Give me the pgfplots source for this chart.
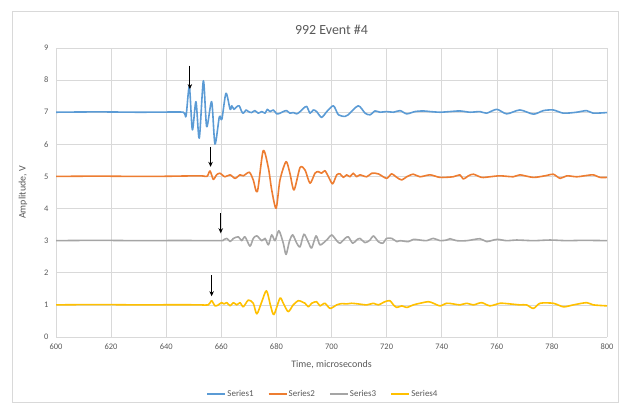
\documentclass[border=0pt]{standalone}
\usepackage{fontspec}
\setmainfont{Carlito}
\usepackage{pgfplots}
\pgfplotsset{compat=1.18}
\usetikzlibrary{arrows.meta}
\definecolor{sA}{RGB}{91,155,213}
\definecolor{sB}{RGB}{237,125,49}
\definecolor{sC}{RGB}{165,165,165}
\definecolor{sD}{RGB}{255,192,0}
\definecolor{txt}{RGB}{89,89,89}
\definecolor{grd}{RGB}{217,217,217}
\begin{document}
\begin{tikzpicture}
\useasboundingbox (0,0) rectangle (625bp,409bp);
\draw[grd, line width=0.6bp] (12bp,7bp) rectangle (618bp,398bp);
\begin{axis}[
  at={(56bp,72bp)}, anchor=south west,
  scale only axis, width=551bp, height=289bp,
  xmin=600, xmax=800, ymin=0, ymax=9,
  xtick={600,620,...,800}, ytick={0,1,...,9},
  grid=major, major grid style={draw=grd, line width=0.6bp},
  axis line style={draw=none},
  major tick length=0pt,
  /pgf/number format/assume math mode=true,
  /pgf/number format/1000 sep={},
  ticklabel style={font=\fontsize{8.5}{10}\selectfont, text=txt},
  yticklabel style={xshift=-4bp},
  xticklabel style={yshift=-3bp},
  title={992 Event \#4},
  title style={at={(axis description cs:0.5,1)}, anchor=center, yshift=12bp, font=\fontsize{14}{16}\selectfont, text=txt},
  xlabel={Time, microseconds},
  xlabel style={at={(axis description cs:0.5,0)}, anchor=center, yshift=-28bp, font=\fontsize{10}{12}\selectfont, text=txt},
  ylabel={Amplitude, V},
  ylabel style={at={(axis description cs:0,0.5)}, anchor=center, yshift=33bp, font=\fontsize{10}{12}\selectfont, text=txt},
  legend columns=4,
  legend style={at={(axis description cs:0.484,-0.197)}, anchor=center, draw=none, fill=none,
    font=\fontsize{9}{11}\selectfont, text=txt, inner sep=0pt,
    nodes={inner sep=1.2bp},
    /tikz/every even column/.append style={column sep=13bp}},
  legend image code/.code={\draw[#1, line width=1.6bp] (0bp,0bp) -- (18bp,0bp);},
  every axis plot/.append style={line width=1.6bp, line join=round},
]
\addplot[sA, smooth, tension=0.45] coordinates {
(600,7.0) (615,7.01) (630,7.0) (640,7.005) (646.2,7.0) (647.2,6.88) (648.4,7.8) (649.5,6.45)
(650.8,7.33) (652.0,6.19) (653.5,7.98) (654.7,6.55) (656.5,7.33) (657.7,6.01) (659.3,6.86)
(660.2,6.78) (661.7,7.59) (663.2,7.09) (663.8,7.2) (664.6,7.09) (665.6,7.17) (666.5,7.2)
(667.4,7.02) (668.0,6.97) (669.0,7.07) (669.8,7.02) (671.0,6.99) (672.2,7.05) (673.4,6.97)
(674.7,7.02) (675.9,6.97) (676.7,7.09) (677.7,7.02) (678.9,7.07) (680.1,6.95) (681.3,6.97)
(682.5,7.02) (683.7,7.05) (684.9,6.97) (686.1,6.99) (687.4,6.95) (688.6,7.02) (689.8,7.12)
(691.0,7.18) (692.2,6.97) (693.4,7.07) (694.6,7.02) (696.4,6.84) (698.3,7.02) (700.7,7.20)
(702.5,6.92) (704.9,6.87) (706.1,6.92) (709.7,7.20) (712.2,6.97) (714.0,6.92) (715.8,7.04)
(717.6,7.0) (720.0,7.02) (722.5,7.0) (724.9,7.05) (727.3,6.95) (730.3,7.02) (733.3,7.04)
(735.8,7.02) (739.4,7.0) (743.0,7.02) (746.6,7.04) (750.3,7.0) (753.9,7.02) (756.3,6.97)
(760.0,7.09) (763.6,6.95) (768.4,7.07) (773.3,6.94) (776.9,7.05) (780.5,7.07) (784.2,6.97)
(789.0,7.0) (792.6,7.05) (795.0,6.97) (800,6.99)
};
\addlegendentry{Series1}
\addplot[sB, smooth, tension=0.45] coordinates {
(600,5.0) (615,5.01) (630,5.0) (640,5.005) (652.3,5.02) (654.8,5.0) (655.9,5.17) (657.1,4.91)
(658.3,5.05) (659.5,5.10) (661.3,4.99) (663.2,5.05) (665.0,4.94) (666.8,5.05) (668.0,5.02)
(670.2,5.13) (671.6,4.89) (673.1,4.53) (675.2,5.80) (677.1,5.26) (678.3,4.58) (679.9,4.01)
(681.3,4.89) (683.5,5.46) (684.9,5.10) (686.4,4.58) (688.6,5.28) (690.4,5.20) (692.2,4.79)
(694.0,5.10) (695.2,5.15) (696.4,5.10) (697.6,5.18) (698.9,4.99) (700.4,4.77) (701.9,5.05)
(703.1,5.08) (704.3,4.97) (705.5,5.05) (706.7,4.99) (707.9,5.10) (709.1,4.99) (710.3,5.05)
(712.8,4.99) (714.6,5.10) (717.0,5.08) (720.0,4.94) (721.8,5.08) (723.7,4.97) (725.5,4.89)
(727.3,4.99) (729.7,5.07) (732.1,4.99) (735.8,5.05) (739.4,4.97) (744.2,4.99) (746.6,5.05)
(747.9,4.92) (749.7,5.02) (751.5,5.07) (754.5,4.97) (757.5,4.99) (761.2,5.02) (766.0,4.99)
(768.4,5.05) (773.3,4.97) (778.1,5.03) (780.5,5.07) (783.0,4.94) (785.4,5.02) (789.0,4.99)
(792.6,5.03) (795.0,5.05) (797.5,4.97) (800,4.97)
};
\addlegendentry{Series2}
\addplot[sC, smooth, tension=0.45] coordinates {
(600,3.0) (615,3.01) (630,3.0) (645,3.005) (659.5,3.0) (660.7,3.02) (662.0,3.07) (663.2,2.97)
(664.4,3.07) (666.2,3.12) (667.4,3.0) (668.6,3.12) (670.4,2.83) (671.6,3.07) (672.9,3.15)
(674.7,3.0) (675.9,3.07) (677.1,2.87) (678.3,3.18) (679.5,3.0) (680.9,3.31) (682.5,2.92)
(683.5,2.57) (684.7,2.97) (685.9,3.18) (687.4,2.92) (688.6,2.81) (690.0,3.2) (691.6,2.95)
(692.8,2.77) (694.4,3.15) (695.8,2.87) (697.6,2.97) (698.8,3.07) (700.1,3.18) (701.9,3.0)
(703.1,2.92) (704.9,3.07) (706.1,3.12) (707.7,2.92) (709.1,3.02) (710.3,3.07) (712.2,2.94)
(714.0,3.02) (715.2,3.15) (717.0,2.97) (718.6,2.92) (720.0,3.07) (721.9,3.07) (723.7,2.97)
(724.9,3.0) (727.9,2.97) (729.7,3.04) (732.1,3.02) (734.5,3.0) (737.0,3.07) (739.4,3.0)
(741.8,3.02) (743.0,3.06) (745.4,3.0) (749.1,3.0) (753.9,3.06) (756.3,2.97) (760.0,3.04)
(763.6,3.0) (767.2,3.02) (773.3,3.0) (779.3,3.02) (785.4,3.0) (791.4,3.01) (800,3.0)
};
\addlegendentry{Series3}
\addplot[sD, smooth, tension=0.45] coordinates {
(600,1.0) (615,1.01) (630,1.0) (645,1.005) (652.3,1.0) (655.3,1.0) (656.5,1.13) (657.7,0.97)
(658.9,1.0) (660.1,1.07) (661.0,1.03) (662.0,1.07) (663.2,0.97) (664.4,1.07) (665.6,1.0)
(666.8,1.07) (668.0,0.94) (669.8,1.15) (671.6,1.05) (672.9,0.72) (674.7,1.10) (676.4,1.44)
(677.9,0.97) (679.1,0.70) (681.3,1.21) (682.5,1.05) (684.3,0.79) (686.1,1.0) (687.9,1.13)
(689.2,1.10) (690.4,1.05) (691.6,0.94) (692.8,1.05) (694.6,1.10) (695.8,0.97) (697.6,1.05)
(699.5,0.89) (701.9,1.0) (703.7,1.04) (705.5,1.03) (707.3,1.05) (709.7,1.03) (712.8,1.0)
(715.2,1.05) (717.0,1.0) (719.4,1.1) (721.2,1.13) (722.5,1.0) (723.7,0.92) (725.5,0.97)
(727.3,0.92) (729.7,1.0) (732.1,1.05) (735.2,1.10) (737.0,1.05) (739.4,0.97) (741.8,1.05)
(744.2,1.03) (746.6,1.0) (749.1,1.05) (751.5,1.0) (754.5,1.07) (757.5,0.97) (761.2,1.05)
(764.8,1.03) (768.4,1.0) (770.8,1.0) (773.3,0.89) (775.7,1.05) (780.5,1.05) (784.2,0.94)
(787.8,1.0) (792.6,1.07) (795.0,1.0) (800,0.97)
};
\addlegendentry{Series4}
% arrows marking the onsets
\addplot[black, line width=0.8bp, -{Stealth[length=5bp,width=4.5bp]}, forget plot] coordinates {(648.6,8.45) (648.6,7.72)};
\addplot[black, line width=0.8bp, -{Stealth[length=5bp,width=4.5bp]}, forget plot] coordinates {(656.1,5.93) (656.1,5.3)};
\addplot[black, line width=0.8bp, -{Stealth[length=5bp,width=4.5bp]}, forget plot] coordinates {(659.8,3.85) (659.8,3.23)};
\addplot[black, line width=0.8bp, -{Stealth[length=5bp,width=4.5bp]}, forget plot] coordinates {(656.5,1.93) (656.5,1.27)};
\end{axis}
\end{tikzpicture}
\end{document}
